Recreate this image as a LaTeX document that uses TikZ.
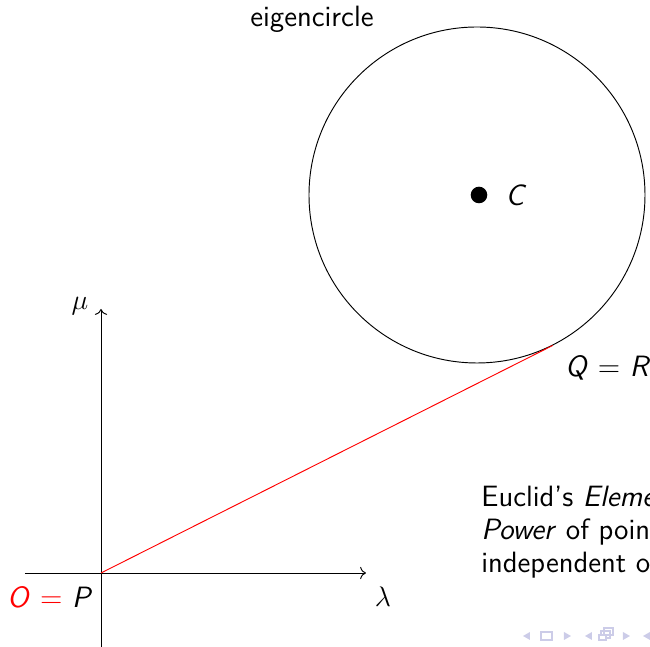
\documentclass[tikz,border=0pt]{standalone}
\usepackage{amsmath,amssymb}
\usepackage{tikz}
\usetikzlibrary{arrows.meta, positioning, calc}
\usepackage{xcolor}
\renewcommand{\familydefault}{\sfdefault}
\definecolor{navgray}{RGB}{204,204,232}
\newcommand{\pv}[1]{\textit{#1}}

\begin{document}
\begin{tikzpicture}[x=0.4255pt, y=-0.4255pt,
  lbl/.style={inner sep=0pt, font=\fontsize{12.5}{15}\selectfont},
  navsym/.style={fill=navgray, draw=none}]
  \useasboundingbox (0,0) rectangle (650,647);
  \clip (0,0) rectangle (650,647);
  % axes
  \coordinate (O) at (101,573);
  \coordinate (xend) at (366,573);
  \coordinate (yend) at (101,309);
  \draw[->] (25,573) -- (xend);
  \draw[->] (101,660) -- (yend);
  \node[lbl] (lam) at (383,597) {$\lambda$};
  \node[lbl] (mu) at (80,306) {$\mu$};
  \node[lbl] (OP) at (50,597) {\textcolor{red}{\pv{O} =} \pv{P}};
  % eigencircle
  \node[draw, circle, minimum size=142.97pt, inner sep=0pt] (eigen) at (477,195) {};
  \fill (479,195) circle[radius=8.3] coordinate (C);
  \node[lbl] (Clbl) at (516,195) {\pv{C}};
  \node[lbl] (eiglbl) at (312,19) {eigencircle};
  % tangent from O
  \coordinate (Q) at (tangent cs:node=eigen, point={(O)}, solution=1);
  \draw[red] (O) -- (Q);
  \node[lbl] (QR) at (608,368) {\pv{Q} = \pv{R}};
  % text
  \node[lbl, anchor=base west] (eucA) at (481,507) {Euclid's \emph{Eleme}};
  \node[lbl, anchor=base west] (eucB) at (481,540) {\emph{Power} of poin};
  \node[lbl, anchor=base west] (eucC) at (481,573) {independent o};
  % navigation symbols
  \fill[navsym] (523,636) -- (530,632) -- (530,640) -- cycle;
  \draw[navgray, line width=1.2pt] (541,632) rectangle (552,640);
  \fill[navsym] (571,636) -- (564,632) -- (564,640) -- cycle;
  \fill[navsym] (585,636) -- (592,632) -- (592,640) -- cycle;
  \draw[navgray, line width=1.2pt] (604,628) rectangle (613,635);
  \draw[navgray, line width=1.2pt] (601,631) rectangle (610,638);
  \fill[navgray] (598,634) rectangle (607,641);
  \fill[white] (600,636) rectangle (605,639);
  \fill[navsym] (630,636) -- (623,632) -- (623,640) -- cycle;
  \fill[navsym] (643,636) -- (650,632) -- (650,640) -- cycle;
\end{tikzpicture}
\end{document}
